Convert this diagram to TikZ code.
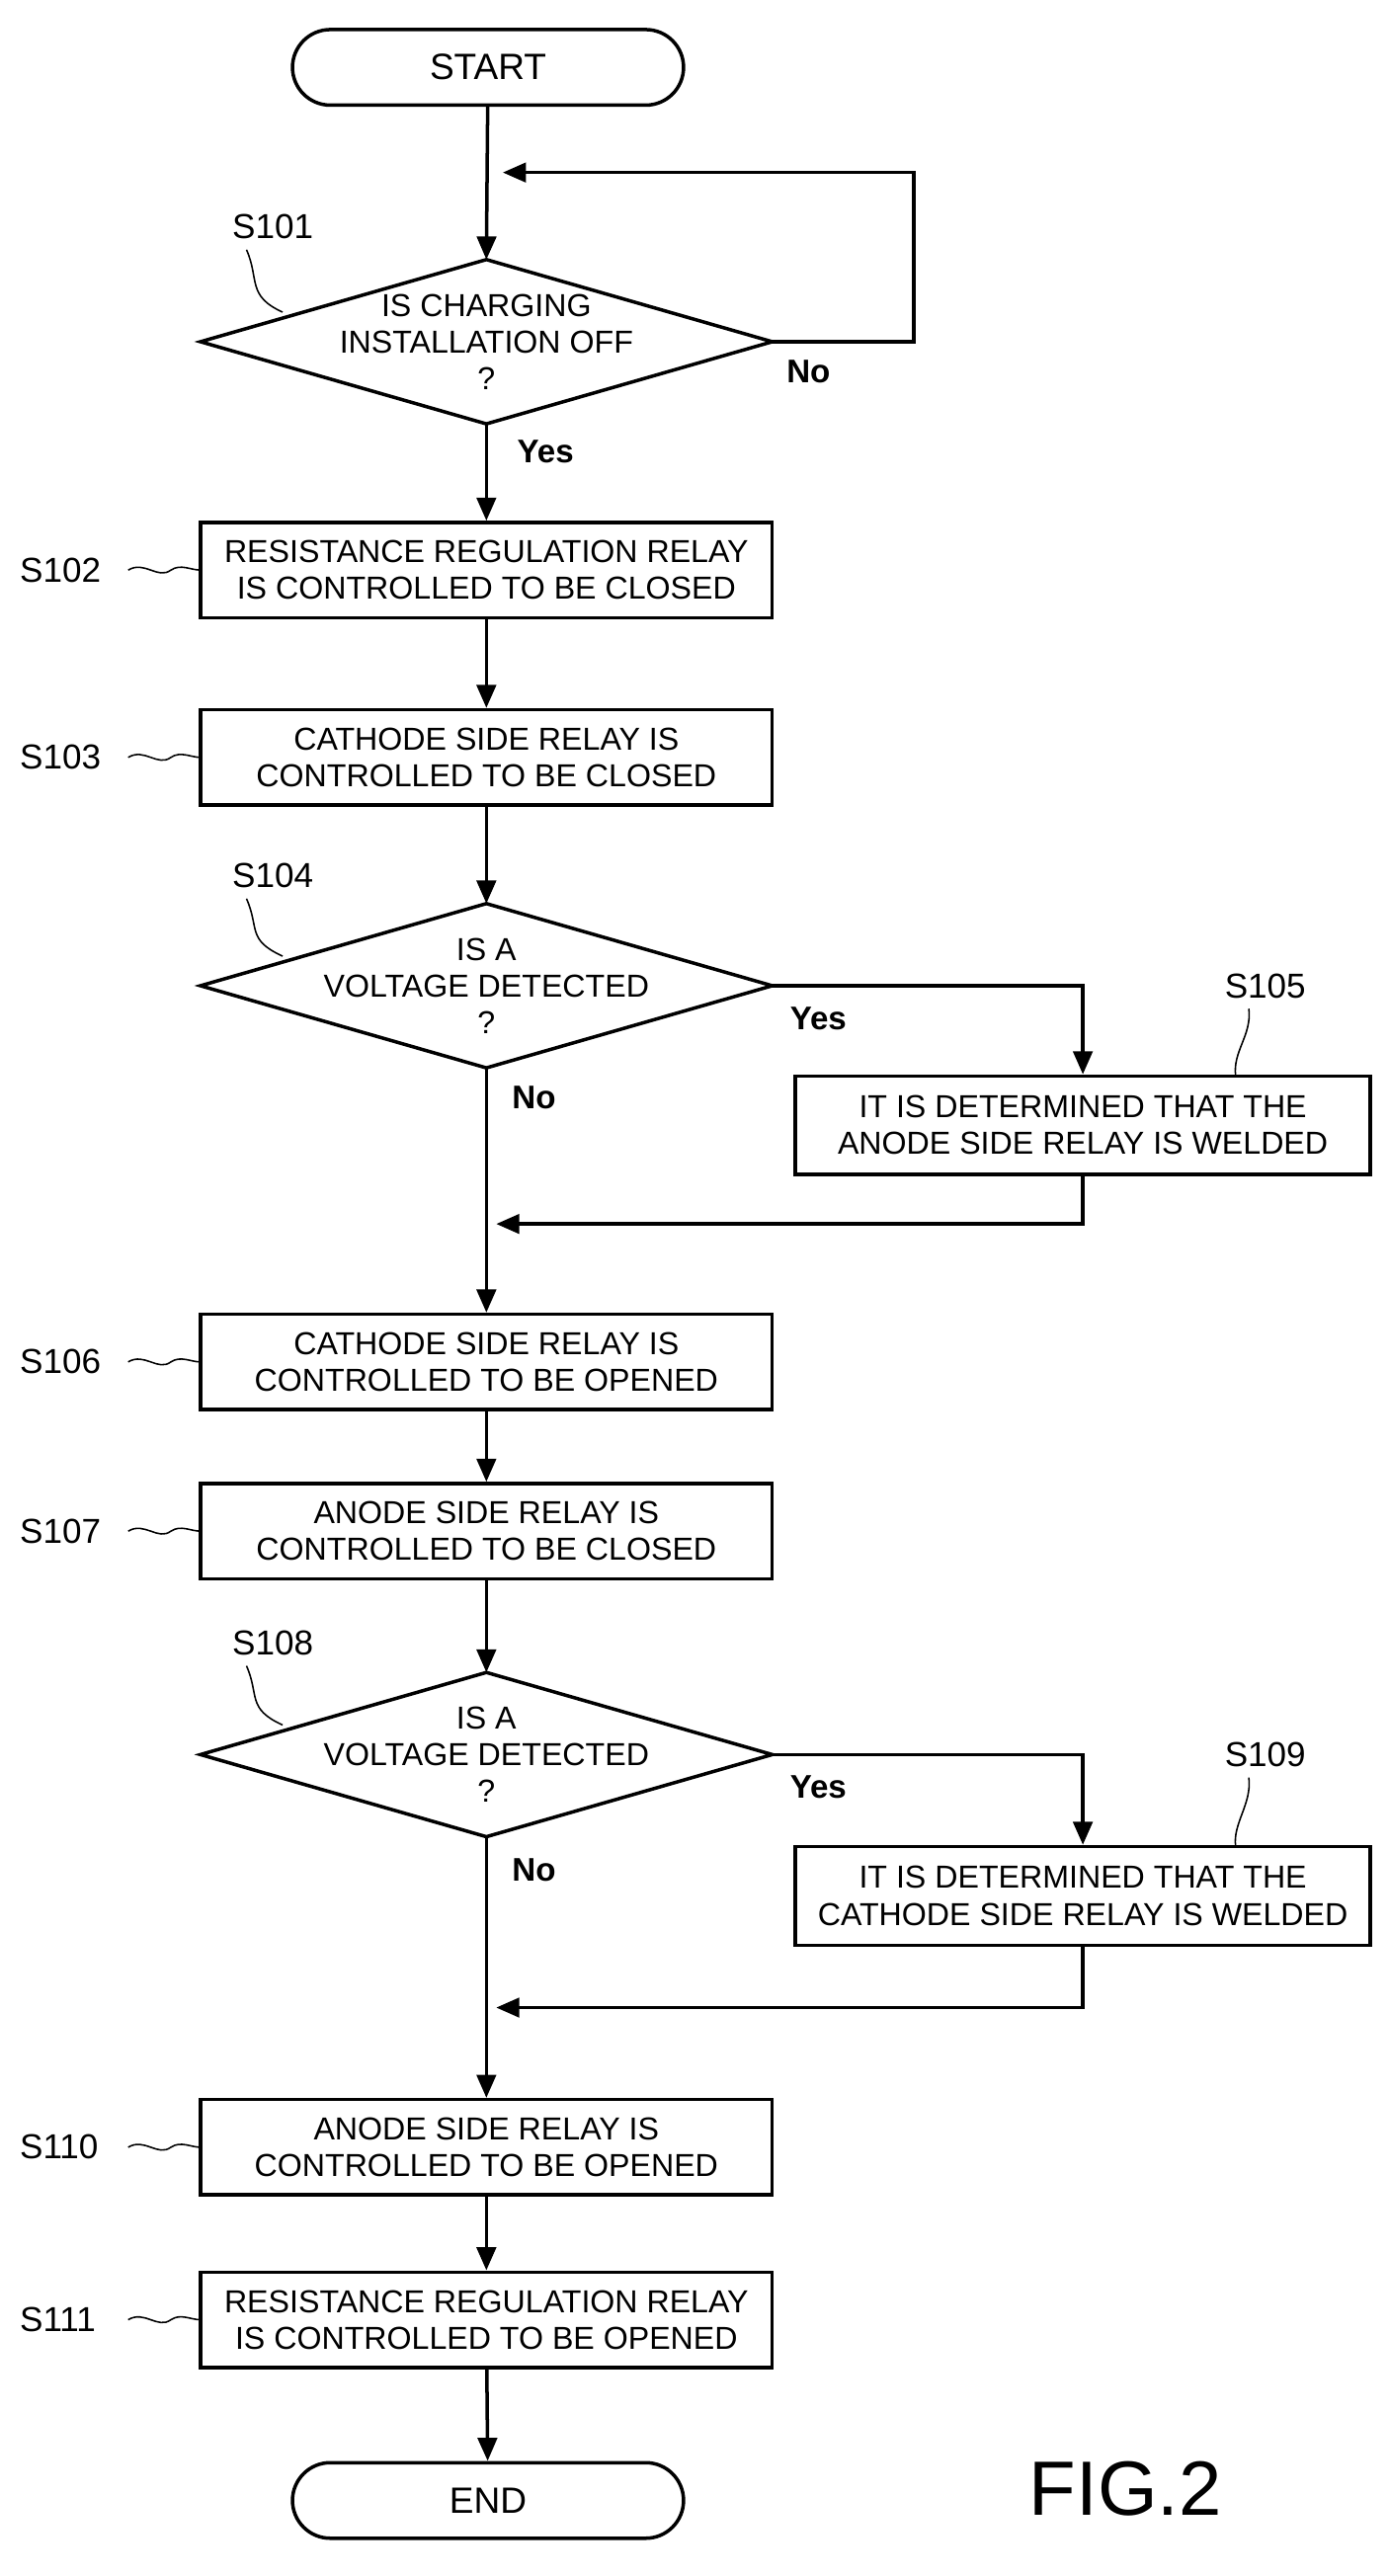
\documentclass[tikz,border=0pt]{standalone}
\usepackage{fontspec}
\setmainfont{Liberation Sans}
\usetikzlibrary{shapes.geometric,arrows.meta}
\begin{document}
\begin{tikzpicture}[x=0.03cm,y=-0.03cm,
  txt/.style={font=\fontsize{16.5}{19}\selectfont,align=center},
  box/.style={draw,line width=1.8pt,minimum width=348*0.03cm,minimum height=58*0.03cm,txt,inner sep=0pt},
  wbox/.style={box,minimum width=350*0.03cm,minimum height=60*0.03cm},
  term/.style={draw,line width=1.8pt,rounded corners=23*0.03cm,minimum width=238*0.03cm,minimum height=46*0.03cm,txt,font=\fontsize{19}{20}\selectfont},
  dia/.style={draw,line width=1.8pt,diamond,aspect=3.48,minimum width=348*0.03cm,minimum height=100*0.03cm,inner sep=0pt,txt},
  arr/.style={line width=1.8pt,-{Triangle[length=12pt,width=10pt]}},
  lab/.style={font=\fontsize{18}{20}\selectfont},
  yn/.style={font=\bfseries\fontsize{17}{20}\selectfont},
  squig/.style={line width=0.8pt}]
\useasboundingbox (0,0) rectangle (845,1568);
\node[term] (start) at (297,41) {START};
\node[txt] (d1) at (296,208) {IS CHARGING\\INSTALLATION OFF\\?};
\node[box] (s102) at (296,347) {RESISTANCE REGULATION RELAY\\IS CONTROLLED TO BE CLOSED};
\node[box] (s103) at (296,461) {CATHODE SIDE RELAY IS\\CONTROLLED TO BE CLOSED};
\node[txt] (d2) at (296,600) {IS A\\VOLTAGE DETECTED\\?};
\node[wbox] (s105) at (659,685) {IT IS DETERMINED THAT THE\\ANODE SIDE RELAY IS WELDED};
\node[box] (s106) at (296,829) {CATHODE SIDE RELAY IS\\CONTROLLED TO BE OPENED};
\node[box] (s107) at (296,932) {ANODE SIDE RELAY IS\\CONTROLLED TO BE CLOSED};
\node[txt] (d3) at (296,1068) {IS A\\VOLTAGE DETECTED\\?};
\node[wbox] (s109) at (659,1154) {IT IS DETERMINED THAT THE\\CATHODE SIDE RELAY IS WELDED};
\node[box] (s110) at (296,1307) {ANODE SIDE RELAY IS\\CONTROLLED TO BE OPENED};
\node[box] (s111) at (296,1412) {RESISTANCE REGULATION RELAY\\IS CONTROLLED TO BE OPENED};
\node[term] (end) at (297,1522) {END};
% diamonds drawn as exact polygons
\foreach \d/\y in {1/208,2/600,3/1068}{
  \coordinate (dn\d) at (296,\y-50); \coordinate (ds\d) at (296,\y+50);
  \coordinate (de\d) at (470,\y); \coordinate (dw\d) at (122,\y);
  \draw[line width=1.8pt,line join=miter] (dn\d) -- (de\d) -- (ds\d) -- (dw\d) -- cycle;
}
% main flow
\draw[arr] (start) -- (dn1);
\draw[arr] (de1) -- (556,208) -- (556,105) -- (306,105);
\draw[arr] (ds1) -- (s102);
\draw[arr] (s102) -- (s103);
\draw[arr] (s103) -- (dn2);
\draw[arr] (ds2) -- (s106);
\draw[arr] (de2) -| (s105.north);
\draw[arr] (s105.south) |- (302,745);
\draw[arr] (s106) -- (s107);
\draw[arr] (s107) -- (dn3);
\draw[arr] (ds3) -- (s110);
\draw[arr] (de3) -| (s109.north);
\draw[arr] (s109.south) |- (302,1222);
\draw[arr] (s110) -- (s111);
\draw[arr] (s111) -- (end);
% yes/no
\node[yn] at (492,226) {No};
\node[yn] at (332,275) {Yes};
\node[yn] at (498,620) {Yes};
\node[yn] at (325,668) {No};
\node[yn] at (498,1088) {Yes};
\node[yn] at (325,1138) {No};
% step labels
\node[lab] (l101) at (166,138) {S101};
\draw[squig] (150,152) .. controls (158,170) and (150,180) .. (172,190);
\node[lab] (l104) at (166,533) {S104};
\draw[squig] (150,547) .. controls (158,565) and (150,572) .. (172,582);
\node[lab] (l108) at (166,1000) {S108};
\draw[squig] (150,1014) .. controls (158,1032) and (150,1040) .. (172,1050);
\node[lab] (l105) at (770,600) {S105};
\draw[squig] (760,614) .. controls (762,630) and (750,640) .. (752,655);
\node[lab] (l109) at (770,1068) {S109};
\draw[squig] (760,1082) .. controls (762,1098) and (750,1110) .. (752,1124);
\foreach \n/\y in {102/347,103/461,106/829,107/932,110/1307,111/1412}{
  \node[lab,anchor=west] at (8,\y) {S\n};
  \draw[squig] (78,\y) .. controls (88,\y-6) and (96,\y+6) .. (104,\y) .. controls (110,\y-4) and (116,\y) .. (122,\y);
}
\node[font=\fontsize{40}{44}\selectfont] (fig) at (685,1515) {FIG.2};
\end{tikzpicture}
\end{document}
